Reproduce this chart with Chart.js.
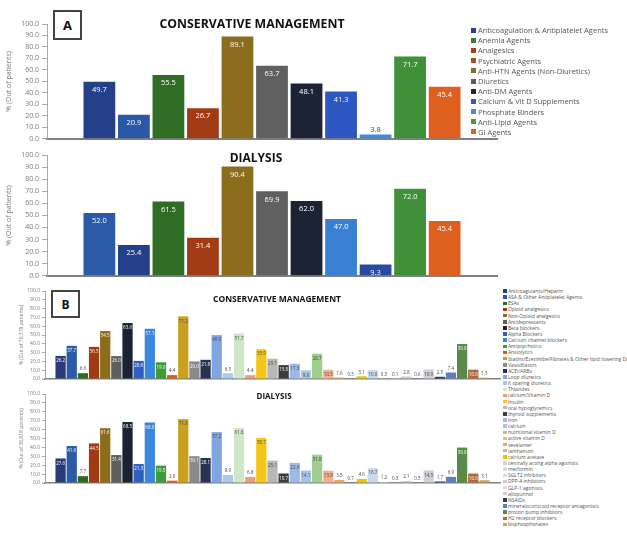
<!DOCTYPE html>
<html><head><meta charset="utf-8">
<script src="https://cdn.jsdelivr.net/npm/chart.js@4"></script>
<style>
html,body{margin:0;padding:0;background:#fff;width:627px;height:542px;overflow:hidden;font-family:"Open Sans",sans-serif;}
.box{position:absolute;}
.panel{position:absolute;box-sizing:border-box;border:2px solid #444;font-weight:bold;color:#111;display:flex;align-items:center;justify-content:center;background:#fff;font-family:"Open Sans",sans-serif;}
.title{position:absolute;font-weight:bold;color:#111;white-space:nowrap;transform:translateX(-50%);line-height:1;}
.leg{position:absolute;color:#555;white-space:nowrap;}
.leg div{display:flex;align-items:center;}
.leg .sw{display:inline-block;flex:none;}
</style></head><body>
<div class="box" style="left:0;top:0;width:500px;height:146px"><canvas id="c1"></canvas></div>
<div class="box" style="left:0;top:146px;width:500px;height:137px"><canvas id="c2"></canvas></div>
<div class="box" style="left:0;top:283px;width:503px;height:101px"><canvas id="c3"></canvas></div>
<div class="box" style="left:0;top:386px;width:503px;height:102px"><canvas id="c4"></canvas></div>
<div class="panel" style="left:53px;top:10px;width:29px;height:30px;font-size:13px">A</div>
<div class="panel" style="left:51px;top:290px;width:29px;height:28px;font-size:12px">B</div>
<div class="title" style="left:252px;top:18px;font-size:12.3px">CONSERVATIVE MANAGEMENT</div>
<div class="title" style="left:256px;top:152px;font-size:12px">DIALYSIS</div>
<div class="title" style="left:277px;top:295px;font-size:8.5px">CONSERVATIVE MANAGEMENT</div>
<div class="title" style="left:274px;top:392px;font-size:8px">DIALYSIS</div>
<div class="leg" id="legA" style="left:471px;top:25px;font-size:7.5px"></div>
<div class="leg" id="legB" style="left:503px;top:288px;font-size:5px"></div>
<script>
// ---------- Panel A data ----------
const catsA = ['Anticoagulation & Antiplatelet Agents','Anemia Agents','Analgesics','Psychiatric Agents','Anti-HTN Agents (Non-Diuretics)','Diuretics','Anti-DM Agents','Calcium & Vit D Supplements','Phosphate Binders','Anti-Lipid Agents','GI Agents'];
const consA = [49.7,20.9,55.5,26.7,89.1,63.7,48.1,41.3,3.8,71.7,45.4];
const dialA = [52.0,25.4,61.5,31.4,90.4,69.9,62.0,47.0,9.3,72.0,45.4];
const colorsConsA = ['#24408a','#2a57a8','#2f6c24','#a23a14','#8b6d1c','#606060','#1b2335','#2c56c2','#3a8ee0','#40903a','#de5f1e'];
const colorsDialA = ['#2a5aa8','#24408a','#2f6c24','#a23a14','#8b6d1c','#606060','#1b2335','#3a80d2','#2a4aa2','#40903a','#de5f1e'];
const legendColorsA = ['#2b3f8c','#3c7a2e','#b3341a','#a4511c','#8c6b22','#5a5a5a','#1e2536','#2e5cc0','#3a8ee0','#45a03a','#e2601e'];
const ticksA = [0,10,20,30,40,50,60,70,80,90,100];

// ---------- Panel B data ----------
const catsB = ['Anticoagulants/Heparin','ASA & Other Antiplatelet Agents','ESAs','Opioid analgesics','Non-Opioid analgesics','Antidepressants','Beta blockers','Alpha Blockers','Calcium channel blockers','Antipsychotics','Anxiolytics','Statins/Ezetimibe/Fibrates & Other lipid lowering Drugs','Vasodilators','ACEi/ARBs','Loop diuretics','K sparing diuretics','Thiazides','calcium/Vitamin D','Insulin','oral hypoglycemics','thyroid supplements','Iron','calcium','nutritional vitamin D','active vitamin D','sevelamer','lanthanum','calcium acetate','centrally acting alpha agonists','metformin','SGLT2 inhibitors','DPP-4 inhibitors','GLP-1 agonists','allopurinol','NSAIDs','mineralocorticoid receptor antagonists','proton pump inhibitors','H2 receptor blockers','bisphosphonates'];
const consB = [26.2,37.7,6.6,36.5,54.5,26.0,63.6,20.6,57.1,19.0,4.4,71.2,20.0,21.8,49.9,6.5,51.7,4.4,33.9,23.1,15.8,17.3,9.8,28.7,10.5,1.6,0.5,3.1,10.0,0.3,0.1,2.8,0.6,10.9,2.5,7.4,39.8,10.6,1.5];
const dialB = [27.6,41.6,7.7,44.5,61.6,31.4,68.5,21.3,68.0,19.5,2.6,71.8,30.1,28.1,57.2,8.9,61.8,6.8,50.7,25.1,10.7,22.6,14.1,31.8,13.8,3.5,0.7,4.6,16.7,1.2,0.3,2.1,0.5,14.3,1.7,6.9,39.8,10.6,3.1];
const colorsB = ['#2a3a78','#2c5aa8','#2e6a20','#a03a14','#8b6d1a','#5e5e5e','#1b2233','#2f5fc0','#3a86dc','#3e9a34','#e05a1c','#c9a020','#8a8a8a','#26324f','#7fa6e0','#a8c8ee','#cfe6c8','#f0a070','#f5c518','#b8b8b8','#3c3c3c','#9db9e8','#a9c4e6','#9fcf8f','#f4b08a','#e8a86a','#bbbbbb','#e8c800','#c8d8ee','#dddddd','#dddddd','#cccccc','#dddddd','#d0d0d8','#2a3a6a','#5a80c0','#5a8a4a','#b06a3a','#d89a60'];

function isDark(hex){const n=parseInt(hex.slice(1),16);const r=n>>16,g=(n>>8)&255,b=n&255;return (0.299*r+0.587*g+0.114*b)<150;}

const valueLabels = {
  id:'valueLabels',
  afterDatasetsDraw(chart, args, o){
    const ctx = chart.ctx; ctx.save();
    ctx.font = o.size + 'px "Open Sans"'; ctx.textAlign='center'; ctx.textBaseline='middle';
    chart.data.datasets.forEach((ds,i)=>{
      chart.getDatasetMeta(i).data.forEach((bar,j)=>{
        const v = ds.data[j];
        const inside = v >= o.minInside;
        const y = inside ? bar.y + o.offIn : bar.y - o.offOut;
        ctx.fillStyle = inside ? (isDark(ds.backgroundColor) ? '#fff' : '#444') : '#444';
        ctx.fillText(v.toFixed(1), bar.x, y);
      });
    });
    ctx.restore();
  }
};

function makeChart(id, cats, vals, colors, cfg){
  return new Chart(document.getElementById(id), {
    type:'bar',
    data:{ labels:[''], datasets: cats.map((c,i)=>({label:c, data:[vals[i]], backgroundColor:colors[i], borderWidth:0})) },
    options:{
      responsive:true, maintainAspectRatio:false, animation:false,
      categoryPercentage: cfg.cp, barPercentage: cfg.bp,
      layout:{padding:cfg.pad},
      plugins:{legend:{display:false}, tooltip:{enabled:false}, title:{display:false},
        valueLabels:{size:cfg.lsize, minInside:cfg.minIn, offIn:cfg.offIn, offOut:cfg.offOut}},
      scales:{
        x:{type:'category', grid:{display:false}, border:{display:true,color:'#808080',width:cfg.xw}, ticks:{display:false}, afterFit:s=>{s.height=0;}},
        y:{min:0,max:100, afterBuildTicks:s=>{s.ticks = ticksA.map(v=>({value:v}));},
           ticks:{callback:v=>Number(v).toFixed(1), font:{size:cfg.tsize,family:'"Open Sans"'}, color:'#7a7a7a', padding:cfg.tpad},
           grid:{display:true, drawOnChartArea:false, drawTicks:true, tickLength:cfg.tlen, color:'#aaa'},
           border:{display:true,color:'#aaa'},
           title:{display:true, text:cfg.ytitle, font:{size:cfg.tsize,family:'"Open Sans"'}, color:'#7a7a7a', padding:{top:cfg.ttop,bottom:0}},
           afterFit:s=>{s.width=cfg.yw;}}
      }
    },
    plugins:[valueLabels]
  });
}

makeChart('c1', catsA, consA, colorsConsA, {cp:0.844,bp:0.92,pad:{top:24,right:3,bottom:3,left:0},lsize:7.5,minIn:8,offIn:8,offOut:5,xw:2,tsize:7,tpad:3,tlen:5,ytitle:'% (Out of patients)',ttop:5,yw:47});
makeChart('c2', catsA, dialA, colorsDialA, {cp:0.844,bp:0.92,pad:{top:9,right:3,bottom:3,left:0},lsize:7.5,minIn:8,offIn:8,offOut:5,xw:2,tsize:7,tpad:3,tlen:5,ytitle:'% (Out of patients)',ttop:5,yw:47});
makeChart('c3', catsB, consB, colorsB, {cp:0.956,bp:0.92,pad:{top:8,right:3,bottom:3,left:0},lsize:4.5,minIn:9,offIn:5,offOut:4,xw:1.5,tsize:5,tpad:2,tlen:3,ytitle:'% (Out of 76,378 patients)',ttop:19,yw:45});
makeChart('c4', catsB, dialB, colorsB, {cp:0.956,bp:0.92,pad:{top:8,right:3,bottom:3,left:0},lsize:4.5,minIn:9,offIn:5,offOut:4,xw:1.5,tsize:5,tpad:2,tlen:3,ytitle:'% (Out of 36,818 patients)',ttop:19,yw:45});

function buildLegend(elId, cats, cols, rowH, sw){
  const el = document.getElementById(elId);
  cats.forEach((c,i)=>{
    const d = document.createElement('div'); d.style.height = rowH+'px';
    const s = document.createElement('span'); s.className='sw';
    s.style.width = sw+'px'; s.style.height = sw+'px'; s.style.background = cols[i]; s.style.marginRight = (sw*0.4)+'px';
    d.appendChild(s); d.appendChild(document.createTextNode(c)); el.appendChild(d);
  });
}
buildLegend('legA', catsA, legendColorsA, 10.2, 5);
buildLegend('legB', catsB, colorsB, 6.15, 3.5);
</script>
</body></html>
